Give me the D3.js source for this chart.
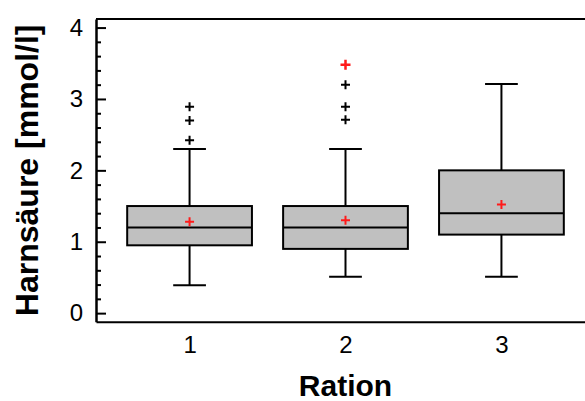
<!DOCTYPE html>
<html>
<head>
<meta charset="utf-8">
<script src="https://cdn.jsdelivr.net/npm/d3@7"></script>
<style>
  body { margin: 0; background: #fff; }
  svg { display: block; font-family: "Liberation Sans", Arial, sans-serif; }
</style>
</head>
<body>
<svg width="585" height="401"></svg>
<script>
// Harnsäure je Ration, Boxplots
var categories = [1, 2, 3];
var q1 = [0.95, 0.90, 1.10];
var medians = [1.20, 1.20, 1.40];
var q3 = [1.50, 1.50, 2.00];
var whiskerLow = [0.39, 0.51, 0.51];
var whiskerHigh = [2.30, 2.30, 3.21];
var means = [1.28, 1.30, 1.52];
var outliers = [[2.42, 2.70, 2.89], [2.71, 2.89, 3.20], []];
var extremes = [[], [3.48], []];
var yTicks = [0, 1, 2, 3, 4];

var svg = d3.select("svg");

var x = d3.scaleLinear().domain([0.4, 3.6]).range([96, 595]);
var y = d3.scaleLinear().domain([-0.12, 4.12]).range([321.7, 19]);

var boxW = x(0.8) - x(0);
var capW = x(0.21) - x(0);

// rahmen oben
svg.append("line")
  .attr("x1", x(0.4)).attr("x2", x(3.6))
  .attr("y1", y(4.12)).attr("y2", y(4.12))
  .attr("stroke", "#000").attr("stroke-width", 2);

// y achse links: kleine ticks + grosse ticks
var minor = d3.range(0, 4.01, 0.2).filter(function (v) { return Math.abs(v - Math.round(v)) > 0.01; });
svg.append("g")
  .attr("transform", "translate(" + x(0.4) + ",0)")
  .call(d3.axisLeft(y).tickValues(minor).tickSizeInner(-5).tickSizeOuter(0).tickFormat(""))
  .call(function (g) { g.select(".domain").remove(); g.selectAll("line").attr("stroke-width", 2); });

var yAxis = svg.append("g")
  .attr("transform", "translate(" + x(0.4) + ",0)")
  .call(d3.axisLeft(y).tickValues(yTicks).tickSizeInner(-10).tickSizeOuter(0).tickPadding(13).tickFormat(d3.format("d")));
yAxis.attr("font-size", 24).attr("font-family", "Liberation Sans, Arial, sans-serif");
yAxis.select(".domain").attr("stroke-width", 2.5);
yAxis.selectAll("line").attr("stroke-width", 2);
yAxis.selectAll("text").attr("fill", "#000");

// rechte achse (ausserhalb, nur tick-spitzen sichtbar)
var rAxis = svg.append("g")
  .attr("transform", "translate(" + x(3.6) + ",0)")
  .call(d3.axisRight(y).tickValues(yTicks).tickSizeInner(-10).tickSizeOuter(0).tickFormat(""));
rAxis.selectAll("line").attr("stroke-width", 2);
rAxis.select(".domain").attr("stroke-width", 2);

// x achse
var xAxis = svg.append("g")
  .attr("transform", "translate(0," + y(-0.12) + ")")
  .call(d3.axisBottom(x).tickValues(categories).tickSize(0).tickPadding(14).tickFormat(d3.format("d")));
xAxis.attr("font-size", 24).attr("font-family", "Liberation Sans, Arial, sans-serif");
xAxis.select(".domain").attr("stroke-width", 2);
xAxis.selectAll("text").attr("fill", "#000");

// boxen
var boxes = svg.append("g").selectAll("g")
  .data(categories)
  .enter().append("g");

boxes.append("line")
  .attr("x1", function (d) { return x(d); }).attr("x2", function (d) { return x(d); })
  .attr("y1", function (d, i) { return y(whiskerHigh[i]); })
  .attr("y2", function (d, i) { return y(q3[i]); })
  .attr("stroke", "#000").attr("stroke-width", 2);
boxes.append("line")
  .attr("x1", function (d) { return x(d); }).attr("x2", function (d) { return x(d); })
  .attr("y1", function (d, i) { return y(q1[i]); })
  .attr("y2", function (d, i) { return y(whiskerLow[i]); })
  .attr("stroke", "#000").attr("stroke-width", 2);
boxes.append("line")
  .attr("x1", function (d) { return x(d) - capW / 2; }).attr("x2", function (d) { return x(d) + capW / 2; })
  .attr("y1", function (d, i) { return y(whiskerHigh[i]); })
  .attr("y2", function (d, i) { return y(whiskerHigh[i]); })
  .attr("stroke", "#000").attr("stroke-width", 2);
boxes.append("line")
  .attr("x1", function (d) { return x(d) - capW / 2; }).attr("x2", function (d) { return x(d) + capW / 2; })
  .attr("y1", function (d, i) { return y(whiskerLow[i]); })
  .attr("y2", function (d, i) { return y(whiskerLow[i]); })
  .attr("stroke", "#000").attr("stroke-width", 2);

boxes.append("rect")
  .attr("x", function (d) { return x(d) - boxW / 2; })
  .attr("width", boxW)
  .attr("y", function (d, i) { return y(q3[i]); })
  .attr("height", function (d, i) { return y(q1[i]) - y(q3[i]); })
  .attr("fill", "#c0c0c0").attr("stroke", "#000").attr("stroke-width", 2);

boxes.append("line")
  .attr("x1", function (d) { return x(d) - boxW / 2; }).attr("x2", function (d) { return x(d) + boxW / 2; })
  .attr("y1", function (d, i) { return y(medians[i]); })
  .attr("y2", function (d, i) { return y(medians[i]); })
  .attr("stroke", "#000").attr("stroke-width", 2);

function plus(g, cx, cy, size, color, sw) {
  g.append("path")
    .attr("d", "M" + (cx - size / 2) + "," + cy + "H" + (cx + size / 2) +
               "M" + cx + "," + (cy - size / 2) + "V" + (cy + size / 2))
    .attr("stroke", color).attr("stroke-width", sw).attr("fill", "none");
}

var marks = svg.append("g");
categories.forEach(function (c, i) {
  plus(marks, x(c), y(means[i]), 9, "#ff1a1a", 2);
  outliers[i].forEach(function (v) { plus(marks, x(c), y(v), 9, "#000", 2); });
  extremes[i].forEach(function (v) { plus(marks, x(c), y(v), 10, "#ff1a1a", 2.5); });
});

// titel
svg.append("text")
  .attr("transform", "translate(38," + (y(4.12) + y(-0.12)) / 2 + ") rotate(-90)")
  .attr("text-anchor", "middle")
  .attr("font-size", 32).attr("font-weight", "bold")
  .text("Harnsäure [mmol/l]");

svg.append("text")
  .attr("x", (x(0.4) + x(3.6)) / 2)
  .attr("y", 396)
  .attr("text-anchor", "middle")
  .attr("font-size", 30).attr("font-weight", "bold")
  .text("Ration");
</script>
</body>
</html>
